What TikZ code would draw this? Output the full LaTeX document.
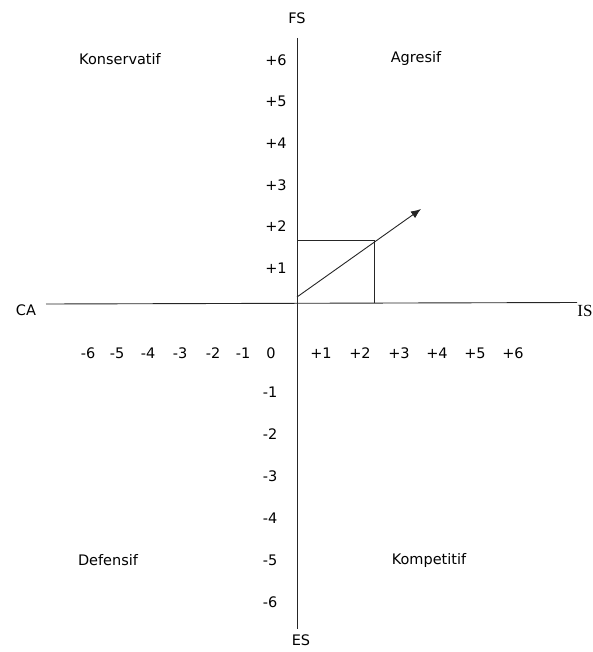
\documentclass[tikz,border=0pt]{standalone}
\usepackage{fontspec}
\setmainfont{DejaVu Sans}
\newfontfamily\serifis{Liberation Serif}
\usetikzlibrary{arrows.meta}
\begin{document}
\begin{tikzpicture}[x=1pt,y=-1pt,
  lbl/.style={inner sep=0pt,font=\fontsize{14.5}{16}\selectfont},
  axisline/.style={line width=0.9pt,draw=black!85},
  thin/.style={line width=0.9pt,draw=black!85}]
\useasboundingbox (0,0) rectangle (593,652);
% axes
\coordinate (left) at (46,304);
\coordinate (right) at (577,302.5);
\coordinate (top) at (297,38);
\coordinate (bottom) at (297,629);
\draw[axisline] (left) -- (right);
\draw[axisline] (top) -- (bottom);
% axis end labels
\node[lbl] (FS) at (297,18) {FS};
\node[lbl] (ES) at (301,640) {ES};
\node[lbl] (CA) at (26,310) {CA};
\node[inner sep=0pt,font=\serifis\fontsize{17}{18}\selectfont] (IS) at (585,311) {IS};
% quadrant labels
\node[lbl] (kons) at (120,59) {Konservatif};
\node[lbl] (agr) at (416,59) {Agresif};
\node[lbl] (def) at (108,560) {Defensif};
\node[lbl] (komp) at (429,560) {Kompetitif};
% vertical scale
\node[lbl] (p6) at (276,60) {+6};
\node[lbl] (p5) at (276,101.5) {+5};
\node[lbl] (p4) at (276,143) {+4};
\node[lbl] (p3) at (276,185) {+3};
\node[lbl] (p2) at (276,226.5) {+2};
\node[lbl] (p1) at (276,268) {+1};
\node[lbl] (m1) at (270,392) {-1};
\node[lbl] (m2) at (270,434) {-2};
\node[lbl] (m3) at (270,476) {-3};
\node[lbl] (m4) at (270,518) {-4};
\node[lbl] (m5) at (270,560) {-5};
\node[lbl] (m6) at (270,602) {-6};
% horizontal scale
\node[lbl] (h6) at (88,353) {-6};
\node[lbl] (h5) at (117,353) {-5};
\node[lbl] (h4) at (148,353) {-4};
\node[lbl] (h3) at (180,353) {-3};
\node[lbl] (h2) at (213,353) {-2};
\node[lbl] (h1) at (243,353) {-1};
\node[lbl] (h0) at (271,353) {0};
\node[lbl] (q1) at (321,353) {+1};
\node[lbl] (q2) at (360,353) {+2};
\node[lbl] (q3) at (399,353) {+3};
\node[lbl] (q4) at (437,353) {+4};
\node[lbl] (q5) at (475,353) {+5};
\node[lbl] (q6) at (513,353) {+6};
% box and vector
\coordinate (bl) at (297,303);
\coordinate (tl) at (297,240);
\coordinate (tr) at (374,240);
\coordinate (br) at (374,303);
\draw[thin] (tl) -- (tr) -- (br);
\coordinate (vs) at (297,297);
\coordinate (ve) at (421,209);
\draw[thin,-{Latex[length=10pt,width=8pt]}] (vs) -- (ve);
\end{tikzpicture}
\end{document}
